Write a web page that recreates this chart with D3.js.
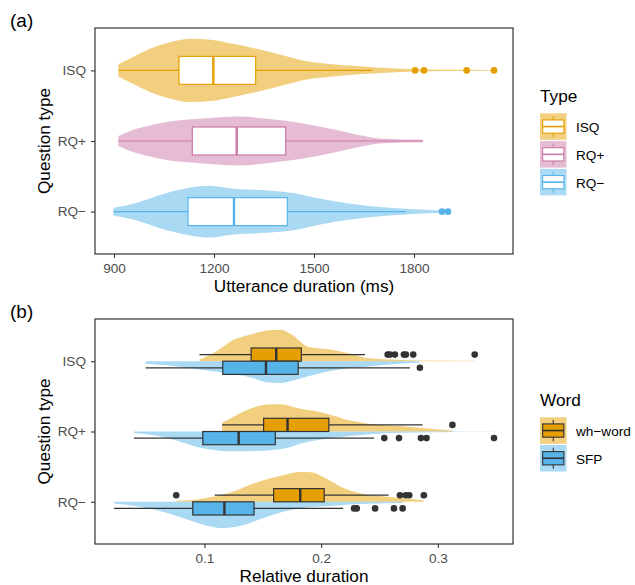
<!DOCTYPE html>
<html>
<head>
<meta charset="utf-8">
<script src="https://cdn.jsdelivr.net/npm/d3@7"></script>
<style>
  body { margin: 0; background: #fff; }
  svg { font-family: "Liberation Sans", Arial, Helvetica, sans-serif; }
</style>
</head>
<body>
<div id="chart"></div>
<script>
// ---- panel (a): utterance duration (ms) by question type
const questionTypes = ["ISQ", "RQ+", "RQ\u2212"];
const typeColors = ["#E69F00", "#CC79A7", "#56B4E9"];
const uttTicks = [900, 1200, 1500, 1800];

const uttLow = [913, 913, 898];
const uttQ1 = [1095, 1135, 1122];
const uttMedian = [1198, 1268, 1260];
const uttQ3 = [1325, 1415, 1420];
const uttHigh = [1675, 1827, 1776];
const uttOutliers = [[1803, 1830, 1958, 2040], [], [1884, 1902]];

// violin outline: [ms, relative density]
const uttDensityISQ = [[913, 0.19], [957, 0.42], [1008, 0.68], [1059, 0.86], [1128, 1.0], [1190, 0.97],
  [1257, 0.84], [1328, 0.68], [1408, 0.47], [1478, 0.29], [1557, 0.19], [1677, 0.10], [1758, 0.05],
  [1850, 0.03], [1950, 0.02], [2040, 0.015]];
const uttDensityRQp = [[913, 0.16], [957, 0.35], [1008, 0.49], [1059, 0.60], [1158, 0.70], [1278, 0.77],
  [1359, 0.70], [1458, 0.57], [1557, 0.37], [1638, 0.18], [1707, 0.07], [1827, 0.04]];
const uttDensityRQm = [[898, 0.12], [958, 0.25], [1058, 0.59], [1158, 0.80], [1188, 0.82], [1258, 0.72],
  [1358, 0.67], [1438, 0.59], [1508, 0.43], [1608, 0.25], [1708, 0.14], [1788, 0.08], [1902, 0.03]];
const uttDensity = [uttDensityISQ, uttDensityRQp, uttDensityRQm];

// ---- panel (b): relative duration by question type and word
const words = ["wh\u2212word", "SFP"];
const wordColors = ["#E69F00", "#56B4E9"];
const relTicks = [0.1, 0.2, 0.3];

// indexed [question type][word]
const relLow = [[0.0957, 0.0496], [0.1151, 0.0396], [0.1088, 0.0225]];
const relQ1 = [[0.1400, 0.1157], [0.1507, 0.0986], [0.1593, 0.0900]];
const relMedian = [[0.1615, 0.1527], [0.1712, 0.1293], [0.1821, 0.1171]];
const relQ3 = [[0.1830, 0.1803], [0.2066, 0.1607], [0.2026, 0.1425]];
const relHigh = [[0.2376, 0.2761], [0.2869, 0.2453], [0.2578, 0.2188]];
const relOutliers = [
  [[0.2570, 0.2590, 0.2632, 0.2709, 0.2726, 0.2789, 0.3316], [0.2846]],
  [[0.3125], [0.2541, 0.2667, 0.2855, 0.2903, 0.3481]],
  [[0.0758, 0.2675, 0.2726, 0.2755, 0.2880], [0.2282, 0.2305, 0.2462, 0.2624, 0.2698]]
];

const relDensity = [
  [
    [[0.0957, 0.05], [0.111, 0.33], [0.125, 0.67], [0.139, 0.83], [0.154, 0.96], [0.165, 0.98], [0.176, 0.80],
     [0.188, 0.46], [0.196, 0.41], [0.210, 0.35], [0.225, 0.23], [0.239, 0.10], [0.2675, 0.04], [0.296, 0.02], [0.3316, 0.01]],
    [[0.0496, 0.08], [0.068, 0.13], [0.0966, 0.27], [0.125, 0.40], [0.139, 0.50], [0.154, 0.66], [0.165, 0.68],
     [0.176, 0.60], [0.188, 0.48], [0.210, 0.29], [0.239, 0.17], [0.2675, 0.08], [0.2846, 0.04]]
  ],
  [
    [[0.1151, 0.27], [0.125, 0.46], [0.139, 0.71], [0.154, 0.84], [0.165, 0.85], [0.182, 0.71], [0.196, 0.63],
     [0.210, 0.50], [0.225, 0.34], [0.239, 0.25], [0.2675, 0.17], [0.296, 0.08], [0.3125, 0.03]],
    [[0.0396, 0.05], [0.068, 0.20], [0.082, 0.35], [0.0966, 0.51], [0.111, 0.59], [0.125, 0.62], [0.154, 0.59],
     [0.171, 0.51], [0.182, 0.38], [0.210, 0.20], [0.239, 0.09], [0.2675, 0.04], [0.300, 0.02], [0.3481, 0.01]]
  ],
  [
    [[0.0758, 0.03], [0.0966, 0.09], [0.125, 0.32], [0.139, 0.53], [0.154, 0.71], [0.168, 0.84], [0.182, 0.93],
     [0.191, 0.92], [0.205, 0.71], [0.219, 0.43], [0.233, 0.27], [0.253, 0.17], [0.273, 0.10], [0.288, 0.04]],
    [[0.0225, 0.05], [0.0396, 0.12], [0.068, 0.35], [0.091, 0.62], [0.105, 0.77], [0.1165, 0.82], [0.131, 0.75],
     [0.148, 0.54], [0.168, 0.30], [0.182, 0.20], [0.210, 0.12], [0.239, 0.06], [0.2698, 0.04]]
  ]
];

const width = 635, height = 585;
const tickGray = "#4D4D4D", lineDark = "#333333";
const titleSize = "17.2px", tickSize = "13.6px";

var svg = d3.select("#chart").append("svg")
  .attr("width", width)
  .attr("height", height);

/**
 * Lighter version of a colour, as ggplot draws a fill with alpha 0.5 on white.
 */
function halfAlpha(c) {
  return d3.interpolateRgb("#ffffff", c)(0.5);
}

/**
 * Draws the panel frame, axes, tick labels and titles.
 */
function drawFrame(g, x, y, ticks, fmt, box, xTitle, tag) {
  g.append("rect")
    .attr("x", box.left).attr("y", box.top)
    .attr("width", box.right - box.left).attr("height", box.bottom - box.top)
    .attr("fill", "none").attr("stroke", lineDark).attr("stroke-width", 1.2);

  var xAxis = g.append("g")
    .attr("transform", "translate(0," + box.bottom + ")")
    .call(d3.axisBottom(x).tickValues(ticks).tickFormat(fmt).tickSize(4).tickPadding(5.7));
  var yAxis = g.append("g")
    .attr("transform", "translate(" + box.left + ",0)")
    .call(d3.axisLeft(y).tickSize(4).tickPadding(5));

  [xAxis, yAxis].forEach(function(a) {
    a.select(".domain").remove();
    a.selectAll(".tick line").attr("stroke", lineDark).attr("stroke-width", 1.1);
    a.selectAll(".tick text").attr("fill", tickGray)
      .style("font-size", tickSize).style("font-family", null);
    a.attr("font-family", null).attr("font-size", null);
  });

  g.append("text")
    .attr("x", (box.left + box.right) / 2).attr("y", box.bottom + 37.5)
    .attr("text-anchor", "middle").style("font-size", titleSize)
    .text(xTitle);

  g.append("text")
    .attr("transform", "translate(50," + ((box.top + box.bottom) / 2) + ") rotate(-90)")
    .attr("text-anchor", "middle").style("font-size", titleSize)
    .text("Question type");

  g.append("text")
    .attr("x", 10).attr("y", box.top - 1)
    .style("font-size", "19px")
    .text(tag);
}

/**
 * Draws one legend entry key: shaded square with a small boxplot glyph.
 */
function drawKey(g, x0, y0, size, color, boxFill, boxStroke) {
  g.append("rect").attr("x", x0).attr("y", y0).attr("width", size).attr("height", size)
    .attr("fill", halfAlpha(color));
  var cx = x0 + size / 2;
  g.append("line").attr("x1", cx).attr("x2", cx).attr("y1", y0 + size * 0.1).attr("y2", y0 + size * 0.9)
    .attr("stroke", boxStroke).attr("stroke-width", 1.1);
  g.append("rect").attr("x", x0 + size * 0.1).attr("y", y0 + size * 0.25)
    .attr("width", size * 0.8).attr("height", size * 0.5)
    .attr("fill", boxFill).attr("stroke", boxStroke).attr("stroke-width", 1.1);
  g.append("line").attr("x1", x0 + size * 0.1).attr("x2", x0 + size * 0.9)
    .attr("y1", y0 + size / 2).attr("y2", y0 + size / 2)
    .attr("stroke", boxStroke).attr("stroke-width", 1.6);
}

// ================= panel (a) =================
var boxA = { left: 95, right: 513, top: 28, bottom: 254 };
var xA = d3.scaleLinear().domain([843, 2097]).range([boxA.left, boxA.right]);
var yA = d3.scalePoint().domain(questionTypes).range([boxA.top, boxA.bottom]).padding(0.6);
var wA = d3.scaleLinear().domain([0, 1]).range([0, 31.7]);

var gA = svg.append("g");

questionTypes.forEach(function(t, i) {
  var cy = yA(t), col = typeColors[i];

  var violin = d3.area()
    .x(d => xA(d[0]))
    .y0(d => cy - wA(d[1]))
    .y1(d => cy + wA(d[1]))
    .curve(d3.curveMonotoneX);
  gA.append("path").datum(uttDensity[i]).attr("d", violin)
    .attr("fill", col).attr("fill-opacity", 0.5);

  gA.append("line").attr("x1", xA(uttLow[i])).attr("x2", xA(uttQ1[i])).attr("y1", cy).attr("y2", cy)
    .attr("stroke", col).attr("stroke-width", 1.2);
  gA.append("line").attr("x1", xA(uttQ3[i])).attr("x2", xA(uttHigh[i])).attr("y1", cy).attr("y2", cy)
    .attr("stroke", col).attr("stroke-width", 1.2);
  gA.append("rect")
    .attr("x", xA(uttQ1[i])).attr("y", cy - 14)
    .attr("width", xA(uttQ3[i]) - xA(uttQ1[i])).attr("height", 28)
    .attr("fill", "#ffffff").attr("stroke", col).attr("stroke-width", 1.2);
  gA.append("line").attr("x1", xA(uttMedian[i])).attr("x2", xA(uttMedian[i]))
    .attr("y1", cy - 14).attr("y2", cy + 14)
    .attr("stroke", col).attr("stroke-width", 2.4);

  gA.selectAll(null).data(uttOutliers[i]).enter().append("circle")
    .attr("cx", d => xA(d)).attr("cy", cy).attr("r", 3.3)
    .attr("fill", col);
});

drawFrame(gA, xA, yA, uttTicks, d3.format("d"), boxA, "Utterance duration (ms)", "(a)");

// legend (a)
var legA = svg.append("g");
legA.append("text").attr("x", 540).attr("y", 102).style("font-size", titleSize).text("Type");
questionTypes.forEach(function(t, i) {
  var y0 = 113.3 + i * 27.8;
  drawKey(legA, 540, y0, 26.5, typeColors[i], "#ffffff", typeColors[i]);
  legA.append("text").attr("x", 576).attr("y", y0 + 13.25 + 5.5)
    .style("font-size", tickSize).text(t);
});

// ================= panel (b) =================
var boxB = { left: 95, right: 513, top: 319, bottom: 544 };
var xB = d3.scaleLinear().domain([0.0062, 0.3644]).range([boxB.left, boxB.right]);
var yB = d3.scalePoint().domain(questionTypes).range([boxB.top, boxB.bottom]).padding(0.6);
var wB = d3.scaleLinear().domain([0, 1]).range([0, 32]);

var gB = svg.append("g");
var dodge = [-6.6, 6.6], halfBox = 6.6;

questionTypes.forEach(function(t, i) {
  var cy = yB(t);
  words.forEach(function(w, j) {
    var dir = j === 0 ? -1 : 1;
    var half = d3.area()
      .x(d => xB(d[0]))
      .y0(cy)
      .y1(d => cy + dir * wB(d[1]))
      .curve(d3.curveMonotoneX);
    gB.append("path").datum(relDensity[i][j]).attr("d", half)
      .attr("fill", wordColors[j]).attr("fill-opacity", 0.5);
  });
});

questionTypes.forEach(function(t, i) {
  words.forEach(function(w, j) {
    var by = yB(t) + dodge[j];
    gB.append("line").attr("x1", xB(relLow[i][j])).attr("x2", xB(relQ1[i][j])).attr("y1", by).attr("y2", by)
      .attr("stroke", lineDark).attr("stroke-width", 1.2);
    gB.append("line").attr("x1", xB(relQ3[i][j])).attr("x2", xB(relHigh[i][j])).attr("y1", by).attr("y2", by)
      .attr("stroke", lineDark).attr("stroke-width", 1.2);
    gB.append("rect")
      .attr("x", xB(relQ1[i][j])).attr("y", by - halfBox)
      .attr("width", xB(relQ3[i][j]) - xB(relQ1[i][j])).attr("height", halfBox * 2)
      .attr("fill", wordColors[j]).attr("stroke", lineDark).attr("stroke-width", 1.2);
    gB.append("line").attr("x1", xB(relMedian[i][j])).attr("x2", xB(relMedian[i][j]))
      .attr("y1", by - halfBox).attr("y2", by + halfBox)
      .attr("stroke", lineDark).attr("stroke-width", 2.4);
    gB.selectAll(null).data(relOutliers[i][j]).enter().append("circle")
      .attr("cx", d => xB(d)).attr("cy", by).attr("r", 3.3)
      .attr("fill", lineDark);
  });
});

drawFrame(gB, xB, yB, relTicks, d3.format(".1f"), boxB, "Relative duration", "(b)");

// legend (b)
var legB = svg.append("g");
legB.append("text").attr("x", 540).attr("y", 405.7).style("font-size", titleSize).text("Word");
words.forEach(function(w, j) {
  var y0 = 417.3 + j * 27.7;
  drawKey(legB, 540, y0, 26.5, wordColors[j], wordColors[j], lineDark);
  legB.append("text").attr("x", 576).attr("y", y0 + 13.25 + 5.5)
    .style("font-size", tickSize).text(w);
});
</script>
</body>
</html>
